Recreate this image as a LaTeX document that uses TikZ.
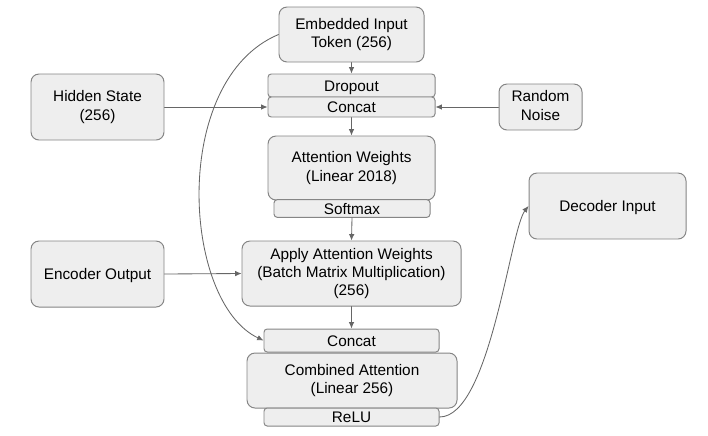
\documentclass[tikz,border=0pt]{standalone}
\usepackage{fontspec}
\setmainfont{Liberation Sans}
\usetikzlibrary{arrows.meta}
\newcommand{\pxu}{0.025cm}
\definecolor{boxfill}{HTML}{EEEEEE}
\definecolor{boxline}{HTML}{858585}
\definecolor{wirecol}{HTML}{666666}

\begin{document}
\begin{tikzpicture}[x=\pxu, y=-\pxu, >={Latex[length=1.6mm, width=1.4mm]}, line cap=round, line join=round,
	font=\fontsize{10.9}{13}\selectfont,
	block/.style={draw=boxline, fill=boxfill, line width=0.7pt, rounded corners=0.2cm, align=center, inner sep=0pt,
		execute at begin node={\rule{0pt}{0.95em}}, execute at end node={\rule[-0.2em]{0pt}{0pt}}},
	bar/.style={block, rounded corners=0.08cm},
	wire/.style={draw=wirecol, line width=0.6pt, ->}]
	
	\useasboundingbox (0,0) rectangle (708,435);
	
	%========================
	% Middle column
	%========================
	\node[block, minimum width=145*\pxu, minimum height=55*\pxu] (embed) at (351.5,34.5) {Embedded Input\\Token (256)};
	\node[bar, minimum width=167*\pxu, minimum height=23*\pxu] (dropout) at (351.5,85.5) {Dropout};
	\node[bar, minimum width=167*\pxu, minimum height=20*\pxu] (concatA) at (351.5,107) {Concat};
	
	\node[block, minimum width=167*\pxu, minimum height=64*\pxu] (attn) at (351.5,168) {Attention Weights\\(Linear 2018)};
	\node[bar, minimum width=156*\pxu, minimum height=17*\pxu] (softmax) at (352,208.5) {Softmax};
	
	\node[block, minimum width=219*\pxu, minimum height=65*\pxu] (apply) at (351.5,273.5) {Apply Attention Weights\\(Batch Matrix Multiplication)\\(256)};
	
	\node[bar, minimum width=175*\pxu, minimum height=23*\pxu] (concatB) at (351.5,340.5) {Concat};
	\node[block, minimum width=210*\pxu, minimum height=55*\pxu] (combined) at (352,380.5) {Combined Attention\\(Linear 256)};
	\node[bar, minimum width=175*\pxu, minimum height=18*\pxu] (relu) at (351.5,417) {ReLU};
	
	%========================
	% Side inputs / output
	%========================
	\node[block, minimum width=133*\pxu, minimum height=66*\pxu] (hidden) at (97.5,107) {Hidden State\\(256)};
	\node[block, minimum width=133*\pxu, minimum height=66*\pxu] (encoder) at (97.5,274) {Encoder Output};
	\node[block, minimum width=83*\pxu, minimum height=46*\pxu] (noise) at (540.5,107) {Random\\Noise};
	\node[block, minimum width=157*\pxu, minimum height=66*\pxu] (decoder) at (607.5,206) {Decoder Input};
	
	% straight connectors
	\draw[wire] (embed.south) -- (dropout.north);
	\draw[wire] (concatA.south) -- (attn.north);
	\draw[wire] (softmax.south) -- (apply.north);
	\draw[wire] (apply.south) -- (concatB.north);
	\draw[wire] (hidden.east) -- (concatA.west);
	\draw[wire] (noise.west) -- (concatA.east);
	\draw[wire] (encoder.east) -- (apply.west);
	
	% curved connectors
	\draw[wire] (embed.west) .. controls (170,80) and (182,302) .. (concatB.west);
	\draw[wire] (relu.east) .. controls (490,417) and (510,230) .. (decoder.west);
	
\end{tikzpicture}
\end{document}
